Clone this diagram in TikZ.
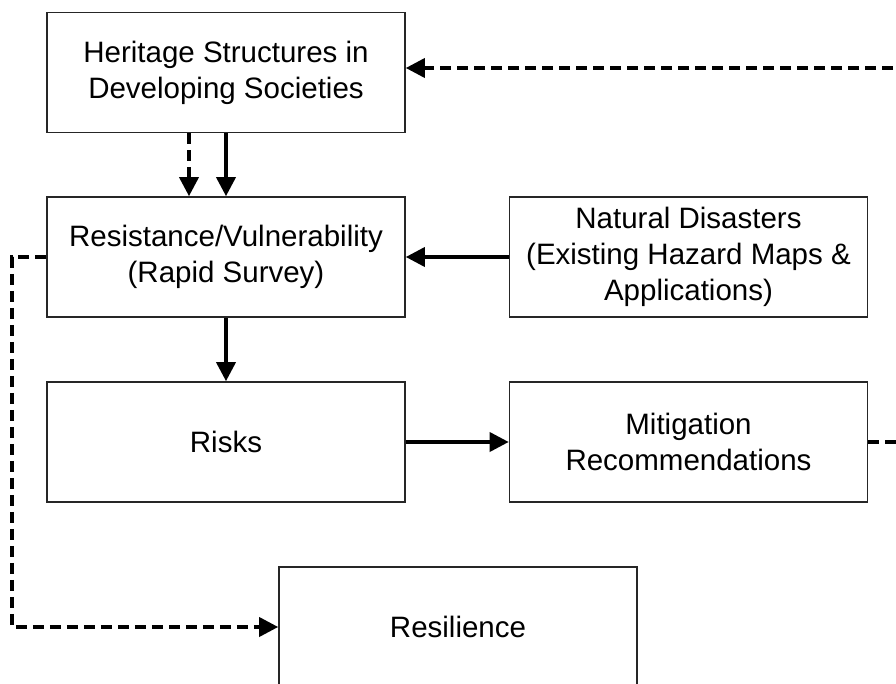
\documentclass[tikz,border=0pt]{standalone}
\usepackage{fontspec}
\setmainfont{Liberation Sans}
\usetikzlibrary{arrows.meta,positioning}

\tikzset{
  box/.style={draw=black!85, line width=1.6pt, minimum width=358pt, minimum height=120pt,
    inner sep=0pt, align=center, font=\fontsize{29.5}{36}\selectfont},
  flow/.style={line width=3.6pt, -{Triangle[length=19pt,width=19pt]}},
  feedback/.style={flow, dash pattern=on 11pt off 6pt},
}

\begin{document}
\begin{tikzpicture}[x=1pt,y=-1pt]
  \useasboundingbox (0,0) rectangle (896,684);
  \clip (0,0) rectangle (896,684);

  \node[box] (heritage) at (226,72.5) {Heritage Structures in\\Developing Societies};
  \node[box] (resist)   at (226,257)  {Resistance/Vulnerability\\(Rapid Survey)};
  \node[box] (hazard)   at (688.5,257) {Natural Disasters\\(Existing Hazard Maps \&\\Applications)};
  \node[box] (risks)    at (226,442)  {Risks};
  \node[box] (mitig)    at (688.5,442) {Mitigation\\Recommendations};
  \node[box] (resil)    at (458,627)  {Resilience};

  % main flow
  \draw[feedback] ([xshift=-37pt]heritage.south) -- ([xshift=-37pt]resist.north);
  \draw[flow] (heritage) -- (resist);
  \draw[flow] (hazard) -- (resist);
  \draw[flow] (resist) -- (risks);
  \draw[flow] (risks) -- (mitig);

  % feedback loops
  \coordinate (loopin)  at (910,68);
  \coordinate (loopout) at (910,439);
  \coordinate (bend)    at (12,0);
  \draw[feedback] (loopin) -- (loopin -| heritage.east);
  \draw[feedback, -] (mitig.east) -- (mitig.east -| loopout);
  \draw[feedback] (resist.west) -- (resist.west -| bend) -- (resil.west -| bend) -- (resil.west);
\end{tikzpicture}
\end{document}
